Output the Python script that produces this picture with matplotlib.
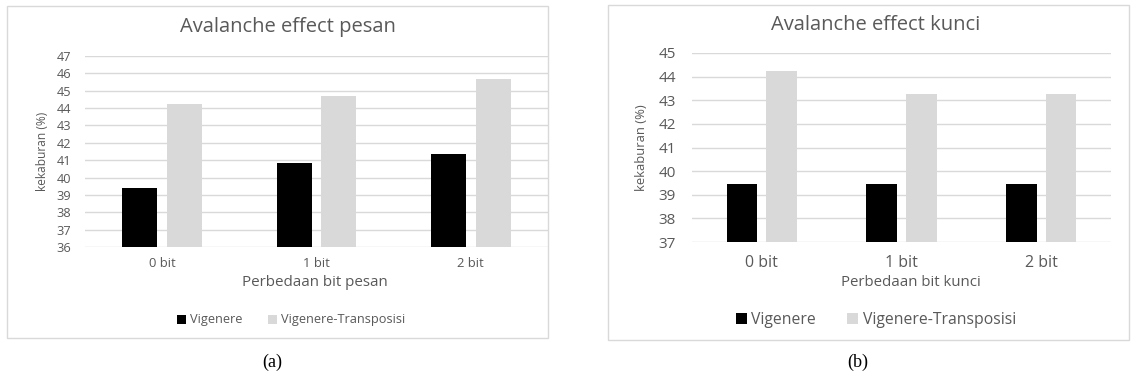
import matplotlib.pyplot as plt
import numpy as np
from matplotlib.patches import Rectangle, Patch

plt.rcParams['font.family'] = ['Open Sans', 'DejaVu Sans']

categories = ["0 bit", "1 bit", "2 bit"]
series_names = ["Vigenere", "Vigenere-Transposisi"]

# (a) avalanche effect when message bits change
pesan_vigenere = [39.4, 40.86, 41.36]
pesan_transposisi = [44.23, 44.72, 45.7]

# (b) avalanche effect when key bits change
kunci_vigenere = [39.44, 39.44, 39.44]
kunci_transposisi = [44.22, 43.26, 43.26]

W, H = 1131, 378
TEXT = '#595959'
GRID = '#d9d9d9'
BAR_COLORS = ['#000000', '#d9d9d9']

fig = plt.figure(figsize=(W / 100, H / 100), dpi=100)


def px_box(x0, y0, x1, y1):
    # pixel box (top-left origin) -> figure fraction [l, b, w, h]
    return [x0 / W, 1 - y1 / H, (x1 - x0) / W, (y1 - y0) / H]


def draw_panel(frame, plot_box, title, xlabel, v1, v2, ylim, fs, pads,
               title_xy, ylabel_x, xlabel_xy, legend_xy, bar_w, caption, cap_x):
    fs_xt, fs_yt, fs_title, fs_xl, fs_yl, fs_leg = fs
    # light chart border
    fx0, fy0, fx1, fy1 = frame
    fig.patches.append(Rectangle((fx0 / W, 1 - fy1 / H), (fx1 - fx0) / W, (fy1 - fy0) / H,
                                 transform=fig.transFigure, fill=False,
                                 edgecolor=GRID, linewidth=1.0))
    ax = fig.add_axes(px_box(*plot_box))
    x = np.arange(len(categories))
    off = bar_w / 2 + 0.032
    ax.bar(x - off, np.array(v1) - ylim[0], bar_w, bottom=ylim[0], color=BAR_COLORS[0], zorder=3)
    ax.bar(x + off, np.array(v2) - ylim[0], bar_w, bottom=ylim[0], color=BAR_COLORS[1], zorder=3)
    ax.set_xlim(-0.5, len(categories) - 0.5)
    ax.set_ylim(*ylim)
    ax.set_yticks(range(ylim[0], ylim[1] + 1))
    ax.set_xticks(x)
    ax.set_xticklabels(categories)
    ax.grid(axis='y', color=GRID, linewidth=1.0, zorder=0)
    for s in ax.spines.values():
        s.set_visible(False)
    ax.tick_params(length=0, colors=TEXT)
    ax.tick_params(axis='x', labelsize=fs_xt, pad=pads[0])
    ax.tick_params(axis='y', labelsize=fs_yt, pad=pads[1])

    fig.text(title_xy[0] / W, 1 - title_xy[1] / H, title, ha='center', va='center',
             fontsize=fs_title, color=TEXT)
    fig.text(xlabel_xy[0] / W, 1 - xlabel_xy[1] / H, xlabel, ha='center', va='center',
             fontsize=fs_xl, color=TEXT)
    pcy = (plot_box[1] + plot_box[3]) / 2
    fig.text(ylabel_x / W, 1 - pcy / H, "kekaburan (%)", ha='center', va='center',
             rotation=90, fontsize=fs_yl, color=TEXT)

    handles = [Patch(facecolor=c, edgecolor='none') for c in BAR_COLORS]
    fig.legend(handles, series_names, loc='center', ncol=2, frameon=False,
               bbox_to_anchor=(legend_xy[0] / W, 1 - legend_xy[1] / H), fontsize=fs_leg,
               handlelength=0.7, handleheight=0.7, handletextpad=0.3,
               columnspacing=2.0, labelcolor=TEXT)

    fig.text(cap_x / W, 1 - 362 / H, caption, ha='center', va='center',
             fontsize=13, family='Liberation Serif', color='black')


draw_panel((7, 6, 548, 338), (85, 56, 548, 247), "Avalanche effect pesan",
           "Perbedaan bit pesan", pesan_vigenere, pesan_transposisi, (36, 47),
           fs=(9.4, 9.2, 14.5, 10.9, 8.6, 9.2), pads=(7.5, 10),
           title_xy=(288, 27), ylabel_x=43, xlabel_xy=(315, 283),
           legend_xy=(291, 320), bar_w=0.227, caption="(a)", cap_x=272)

draw_panel((608, 5, 1129, 340), (692, 53, 1111, 242), "Avalanche effect kunci",
           "Perbedaan bit kunci", kunci_vigenere, kunci_transposisi, (37, 45),
           fs=(11.5, 11, 14.5, 10.8, 9.4, 11.3), pads=(9.5, 11.5),
           title_xy=(876, 25), ylabel_x=642, xlabel_xy=(911, 283),
           legend_xy=(876, 320), bar_w=0.22, caption="(b)", cap_x=858)

fig.savefig("out.png", dpi=100)
